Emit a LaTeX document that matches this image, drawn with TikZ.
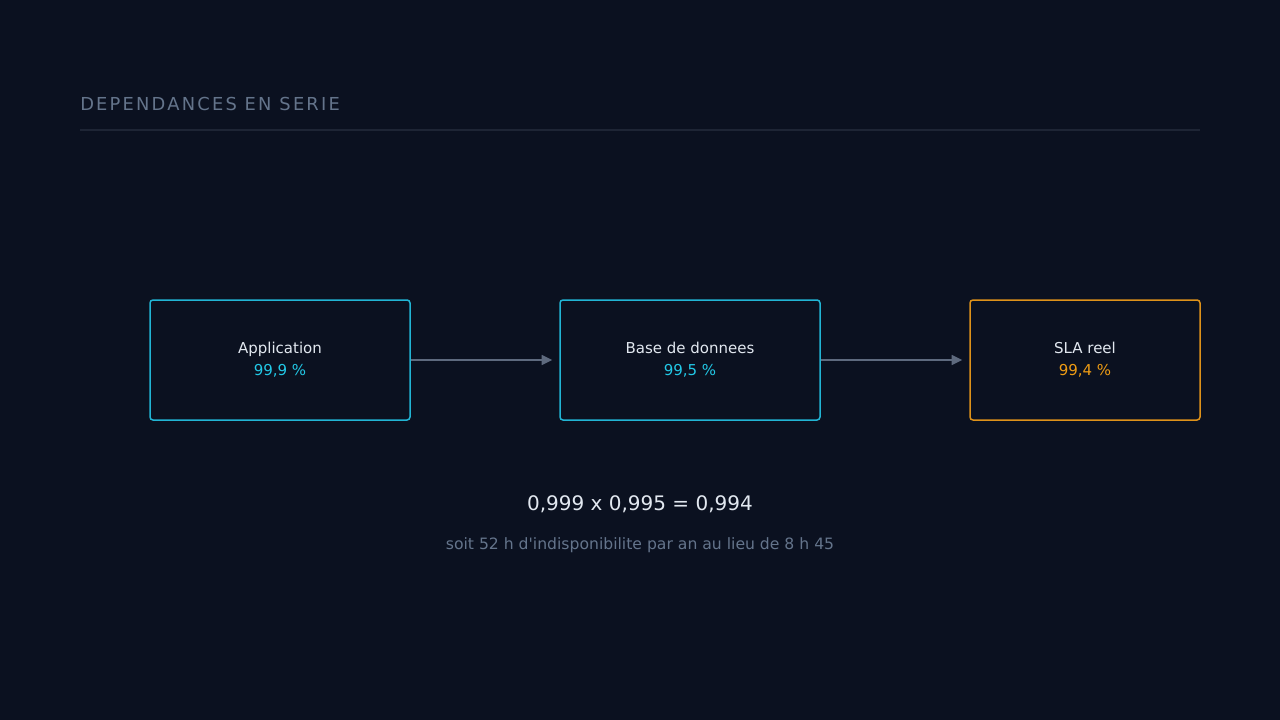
\documentclass[tikz,border=0pt]{standalone}
\usepackage{fontspec}
\setmainfont{DejaVu Sans}[Ligatures=TeXOff]
\usetikzlibrary{arrows.meta}
\definecolor{bg}{HTML}{0B1120}
\definecolor{titlec}{HTML}{64748B}
\definecolor{rulec}{HTML}{1E2535}
\definecolor{cyb}{HTML}{22B4D4}
\definecolor{cyt}{HTML}{22C8E6}
\definecolor{orb}{HTML}{DE921A}
\definecolor{ort}{HTML}{EE9C14}
\definecolor{txt}{HTML}{E2E8F0}
\definecolor{arr}{HTML}{5E6A7E}
\definecolor{subc}{HTML}{64748B}
\begin{document}
\begin{tikzpicture}[x=0.75pt,y=-0.75pt,
  box/.style={draw=cyb, line width=1.125pt, rounded corners=2.25pt, minimum height=90pt, inner sep=0pt,
     align=center, text=txt, font=\fontsize{11.25pt}{16.5pt}\selectfont},
  obox/.style={box, draw=orb},
  conn/.style={draw=arr, line width=1.125pt, -{Triangle[length=7.9pt,width=7.5pt]}, shorten >=5.25pt}]
\fill[bg] (0,0) rectangle (1280,720);
\useasboundingbox (0,0) rectangle (1280,720);
\node[anchor=base west, text=titlec, inner sep=0pt,
  font=\fontsize{13.4pt}{15pt}\selectfont\addfontfeature{LetterSpace=12.3}] (title) at (80,110.5) {DEPENDANCES EN SERIE};
\draw[rulec, line width=1.5pt] (80,130) -- (1200,130);
\node[box, minimum width=195pt] (app) at (280,360) {Application\\\textcolor{cyt}{99,9 \%}};
\node[box, minimum width=195pt] (db) at (690,360) {Base de donnees\\\textcolor{cyt}{99,5 \%}};
\node[obox, minimum width=172.5pt] (sla) at (1085,360) {SLA reel\\\textcolor{ort}{99,4 \%}};
\draw[conn] (app.east) -- (db.west);
\draw[conn] (db.east) -- (sla.west);
\node[text=txt, font=\fontsize{15pt}{18pt}\selectfont] (formula) at (640,504) {0,999 x 0,995 = 0,994};
\node[text=subc, font=\fontsize{11.72pt}{15pt}\selectfont] (sub) at (640,545.5) {soit 52 h d'indisponibilite par an au lieu de 8 h 45};
\end{tikzpicture}
\end{document}
